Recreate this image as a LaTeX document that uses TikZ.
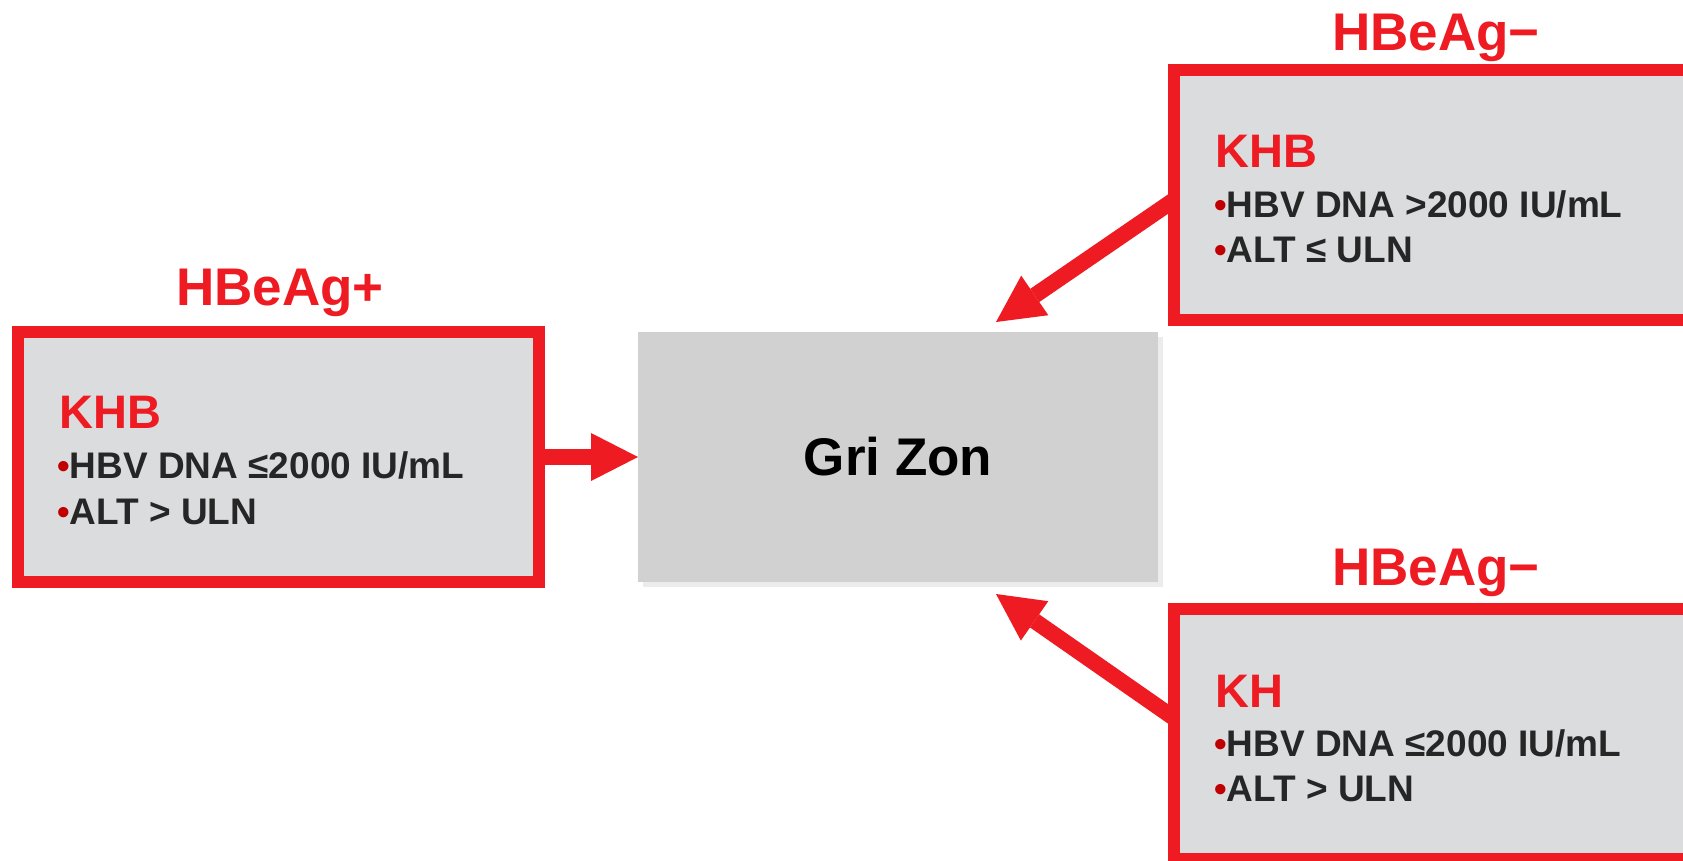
\documentclass[tikz,border=0pt]{standalone}
\usepackage{fontspec}
\setmainfont{Liberation Sans}
\usetikzlibrary{arrows.meta,shadows}
\definecolor{kred}{RGB}{238,27,34}
\definecolor{kfill}{RGB}{219,220,222}
\definecolor{kgray}{RGB}{209,209,209}
\definecolor{ktext}{RGB}{38,38,38}
\definecolor{kbul}{RGB}{192,0,0}
\newcommand{\kbul}{{\color{kbul}\fontsize{36}{36}\selectfont •}}
\tikzset{
 kbox/.style={draw=kred, fill=kfill, line width=12pt, minimum height=250pt, inner sep=0pt, outer sep=0pt},
 hdr/.style={text=kred, font=\fontsize{53}{60}\selectfont\bfseries, anchor=base, inner sep=0pt},
 ttl/.style={text=kred, font=\fontsize{47}{56}\selectfont\bfseries, anchor=base west, inner sep=0pt},
 itm/.style={text=ktext, font=\fontsize{37}{44}\selectfont\bfseries, anchor=base west, inner sep=0pt},
 karrow/.style={draw=kred, line width=16pt, -{Triangle[length=47pt,width=48pt,line width=0pt]}},
}
\begin{document}
\begin{tikzpicture}[x=1pt,y=-1pt]
\useasboundingbox[fill=white] (0,0) rectangle (1683,860);
% center box
\node[fill=kgray, minimum width=520pt, minimum height=250pt, inner sep=0pt, outer sep=0pt,
      drop shadow={shadow xshift=5pt, shadow yshift=-5pt, opacity=0.15},
      font=\fontsize{53}{60}\selectfont\bfseries] (gz) at (898,457) {Gri Zon};
% left box
\node[kbox, minimum width=521pt] (lbox) at (278.5,457) {};
\node[hdr] (lh) at (280,305) {HBeAg+};
\node[ttl] (lt) at (59,428) {KHB};
\node[itm] (l1) at (57,478) {\kbul HBV DNA ≤2000 IU/mL};
\node[itm] (l2) at (57,524) {\kbul ALT > ULN};
% top right box
\node[kbox, minimum width=526pt] (trbox) at (1437,195) {};
\node[hdr] (th) at (1436,50) {HBeAg−};
\node[ttl] (tt) at (1215,167) {KHB};
\node[itm] (t1l) at (1214,217) {\kbul HBV DNA >2000 IU/mL};
\node[itm] (t2l) at (1214,262) {\kbul ALT ≤ ULN};
% bottom right box
\node[kbox, minimum width=526pt] (brbox) at (1437,734) {};
\node[hdr] (bh) at (1436,585) {HBeAg−};
\node[ttl] (bt) at (1215,707) {KH};
\node[itm] (b1l) at (1214,756) {\kbul HBV DNA ≤2000 IU/mL};
\node[itm] (b2l) at (1214,801) {\kbul ALT > ULN};
% arrows
\coordinate (t1) at (996,322);
\coordinate (b1) at (996,594);
\draw[karrow] (lbox.east) -- (gz.west);
\draw[karrow] ([yshift=-5pt]trbox.west) -- (t1);
\draw[karrow] ([yshift=16pt]brbox.west) -- (b1);
\end{tikzpicture}
\end{document}
